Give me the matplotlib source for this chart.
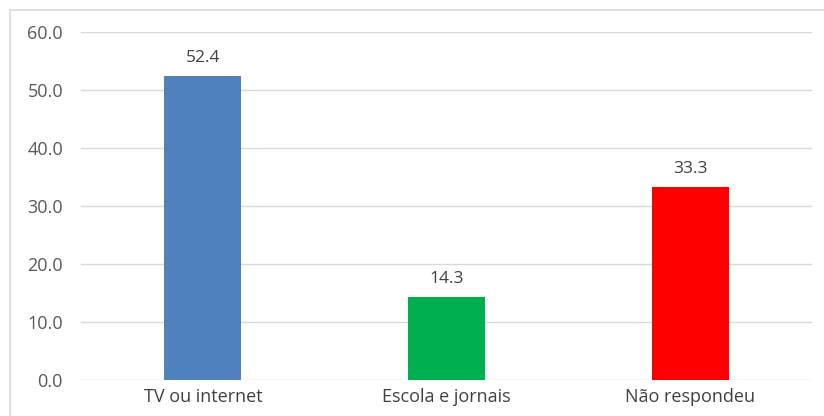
import matplotlib.pyplot as plt
from matplotlib.patches import Rectangle

categories = ['TV ou internet', 'Escola e jornais', 'Não respondeu']
values = [52.4, 14.3, 33.3]
colors = ['#4F81BD', '#00B050', '#FF0000']
yticks = [0, 10, 20, 30, 40, 50, 60]

plt.rcParams['font.family'] = ['Open Sans', 'DejaVu Sans']
text_color = '#595959'

fig = plt.figure(figsize=(8.24, 4.16), dpi=100)
ax = fig.add_axes([0.0983, 0.0865, 0.887, 0.8365])

# outer chart frame (runs off the right and bottom edges)
fig.patches.append(Rectangle((10 / 824, -0.05), 1.0, 1 - 10 / 416 + 0.05,
                             transform=fig.transFigure, fill=False,
                             edgecolor='#D9D9D9', linewidth=1.2))

x = range(len(categories))
bars = ax.bar(x, values, width=0.316, color=colors)

for b, v in zip(bars, values):
    ax.annotate(f'{v:.1f}', (b.get_x() + b.get_width() / 2, v),
                xytext=(0, 7), textcoords='offset points',
                ha='center', va='bottom', fontsize=12.5, color='#404040')

ax.set_xlim(-0.5, 2.5)
ax.set_ylim(0, 60)
ax.set_yticks(yticks)
ax.set_yticklabels([f'{t:.1f}' for t in yticks])
ax.set_xticks(list(x))
ax.set_xticklabels(categories)
ax.tick_params(axis='y', length=0, pad=13, labelsize=13, labelcolor=text_color)
ax.tick_params(axis='x', length=0, pad=6, labelsize=13, labelcolor='#404040')

ax.grid(axis='y', color='#D9D9D9', linewidth=1)
ax.set_axisbelow(True)
for s in ax.spines.values():
    s.set_visible(False)

fig.savefig('out.png', dpi=100)
